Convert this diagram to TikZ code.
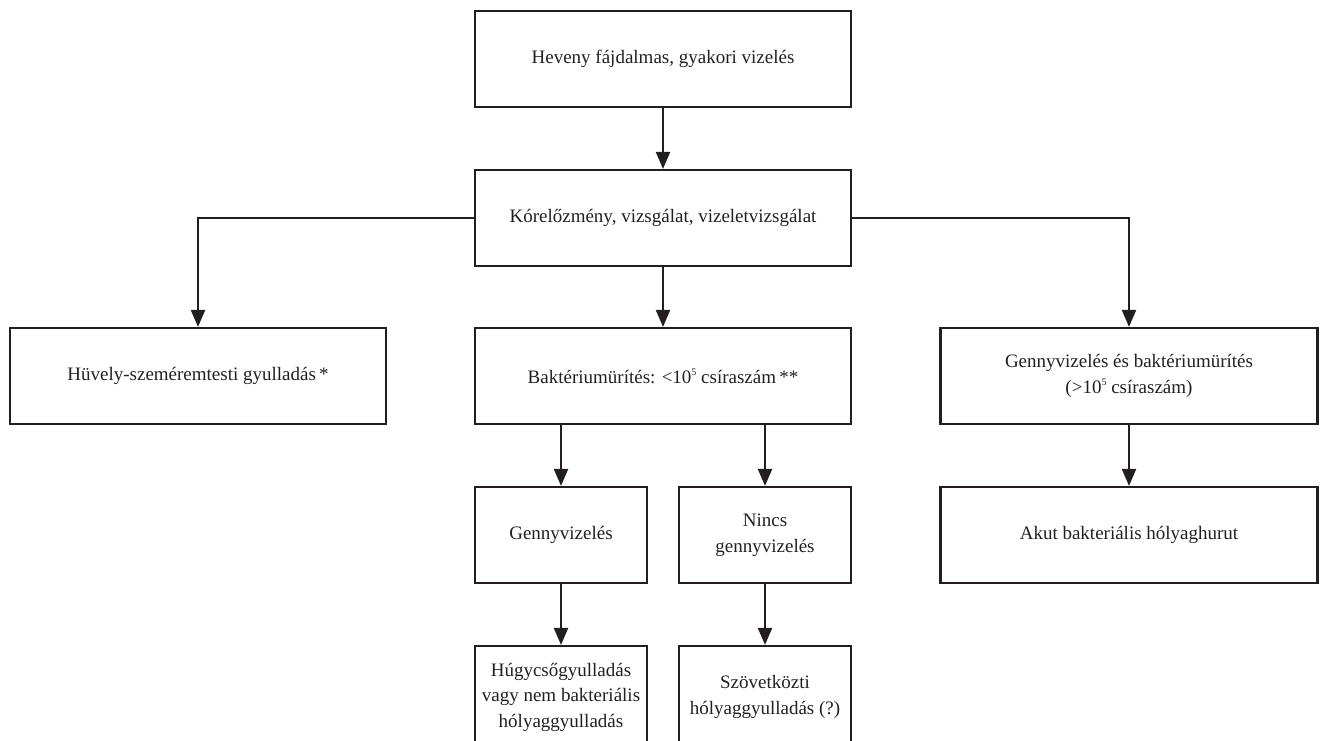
\documentclass[tikz,border=0pt]{standalone}
\usepackage{fontspec}
\setmainfont{Liberation Serif}
\usetikzlibrary{arrows.meta}
\definecolor{ink}{HTML}{231F20}
% small raised exponent
\newcommand{\expo}[1]{\raisebox{0.42em}{\fontsize{10}{10}\selectfont #1}}
\begin{document}
\begin{tikzpicture}[x=1pt,y=-1pt,
  box/.style={draw=ink, line width=2.2, rectangle, inner sep=0pt, align=center,
    text=ink, font=\fontsize{19}{25.5}\selectfont,
    minimum width=376, minimum height=96},
  smallbox/.style={box, minimum width=172},
  link/.style={draw=ink, line width=2.2, -{Triangle[length=17,width=14]}}]
\useasboundingbox (0,0) rectangle (1320,740);
\clip (0,0) rectangle (1320,740);

% main column
\node[box] (top)  at (663,59)  {Heveny fájdalmas, gyakori vizelés};
\node[box] (hist) at (663,218) {Kórelőzmény, vizsgálat, vizeletvizsgálat};

% three branches
\node[box] (vag)  at (198,376) {Hüvely-szeméremtesti gyulladás\,*};
\node[box] (bact) at (663,376) {Baktériumürítés: <10\expo{5} csíraszám\,**};
\node[box, minimum width=377] (pyu) at (1129,376) {Gennyvizelés és baktériumürítés\\(>10\expo{5} csíraszám)};

% sub-branches
\node[smallbox] (genny)  at (561,535) {Gennyvizelés};
\node[smallbox] (nincs)  at (765,535) {Nincs\\gennyvizelés};
\node[box, minimum width=377] (akut) at (1129,535) {Akut bakteriális hólyaghurut};

% last row runs past the lower edge
\node[smallbox, minimum height=102] (urethr) at (561,697) {Húgycsőgyulladás\\vagy nem bakteriális\\hólyaggyulladás};
\node[smallbox, minimum height=102] (interst) at (765,697) {Szövetközti\\hólyaggyulladás (?)};

% connectors
\draw[link] (top.south) -- (hist.north);
\draw[link] (hist.west) -| (vag.north);
\draw[link] (hist.south) -- (bact.north);
\draw[link] (hist.east) -| (pyu.north);
\draw[link] (genny.north |- bact.south) -- (genny.north);
\draw[link] (nincs.north |- bact.south) -- (nincs.north);
\draw[link] (pyu.south) -- (akut.north);
\draw[link] (genny.south) -- (urethr.north);
\draw[link] (nincs.south) -- (interst.north);
\end{tikzpicture}
\end{document}
